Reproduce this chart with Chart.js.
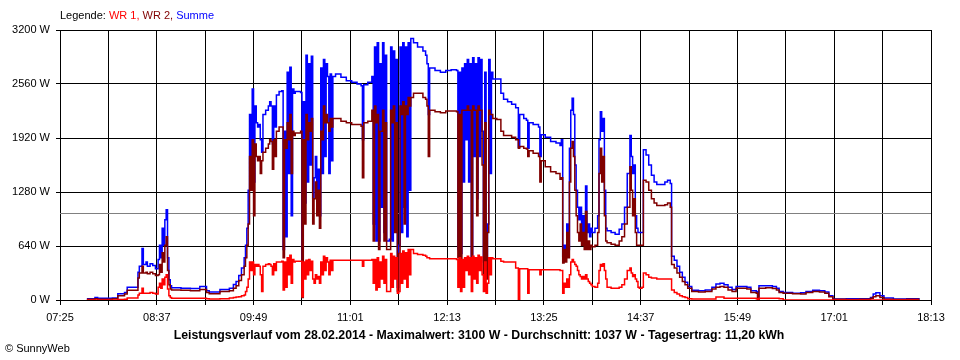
<!DOCTYPE html>
<html>
<head>
<meta charset="utf-8">
<script src="https://cdn.jsdelivr.net/npm/chart.js@4.4.1/dist/chart.umd.min.js"></script>
<style>
  html, body { margin: 0; padding: 0; background: #fff; }
</style>
</head>
<body>
<canvas id="myChart" width="960" height="360"></canvas>
<script>
// Leistungsverlauf 28.02.2014
var times = [
  '07:45','07:51','07:53','08:04','08:08','08:13','08:15','08:23','08:24','08:26',
  '08:27','08:29','08:30','08:32','08:34','08:36','08:38','08:39','08:40','08:41',
  '08:42','08:43','08:44','08:45','08:46','08:47','08:48','08:55','09:02','09:09',
  '09:14','09:16','09:24','09:31','09:34','09:36','09:38','09:40','09:42','09:43',
  '09:44','09:45','09:46','09:47','09:48','09:49','09:50','09:51','09:52','09:53',
  '09:54','09:55','09:56','09:58','10:00','10:01','10:02','10:03','10:04','10:05',
  '10:06','10:08','10:10','10:11','10:12','10:13','10:14','10:15','10:16','10:17',
  '10:18','10:19','10:20','10:24','10:25','10:26','10:27','10:28','10:29','10:30',
  '10:31','10:32','10:33','10:34','10:35','10:36','10:37','10:38','10:39','10:40',
  '10:41','10:42','10:43','10:44','10:45','10:46','10:47','10:48','10:50','10:54',
  '10:58','11:02','11:06','11:09','11:10','11:11','11:14','11:17','11:18','11:19',
  '11:20','11:21','11:22','11:23','11:24','11:25','11:26','11:27','11:28','11:30',
  '11:31','11:32','11:33','11:34','11:35','11:36','11:37','11:38','11:39','11:40',
  '11:41','11:42','11:43','11:44','11:45','11:46','11:48','11:51','11:55','11:57',
  '11:58','11:59','12:00','12:04','12:08','12:12','12:16','12:20','12:21','12:22',
  '12:23','12:24','12:25','12:26','12:27','12:28','12:29','12:30','12:31','12:32',
  '12:33','12:34','12:35','12:36','12:37','12:38','12:39','12:40','12:41','12:42',
  '12:43','12:44','12:45','12:46','12:47','12:50','12:53','12:55','12:58','13:01',
  '13:04','13:06','13:07','13:10','13:12','13:13','13:14','13:17','13:21','13:22',
  '13:23','13:26','13:30','13:34','13:37','13:38','13:39','13:40','13:41','13:42',
  '13:43','13:44','13:45','13:46','13:47','13:48','13:49','13:50','13:51','13:52',
  '13:53','13:54','13:55','13:56','13:57','13:58','13:59','14:00','14:01','14:03',
  '14:05','14:06','14:07','14:08','14:09','14:10','14:11','14:12','14:15','14:18',
  '14:21','14:23','14:25','14:27','14:29','14:30','14:31','14:32','14:33','14:34',
  '14:35','14:36','14:38','14:39','14:41','14:43','14:45','14:47','14:49','14:52',
  '14:55','14:57','14:59','15:00','15:02','15:04','15:06','15:08','15:10','15:12',
  '15:15','15:20','15:25','15:30','15:33','15:36','15:39','15:42','15:45','15:48',
  '15:52','15:56','15:59','16:03','16:04','16:05','16:10','16:15','16:18','16:20',
  '16:23','16:30','16:36','16:40','16:45','16:50','16:54','16:57','17:00','17:10',
  '17:20','17:28','17:30','17:32','17:35','17:38','17:45','17:55','18:04'
];

var wr1 = [
  0, 0, 0, 0, 5, 10, 25, 60, 80, 140,
  80, 80, 80, 90, 80, 70, 150, 200, 140, 250,
  180, 270, 300, 130, 50, 30, 20, 20, 20, 20,
  15, 12, 15, 25, 30, 35, 40, 50, 60, 100,
  150, 250, 450, 350, 450, 300, 420, 400, 420, 400,
  300, 100, 400, 420, 430, 420, 400, 300, 430, 350,
  450, 450, 460, 120, 450, 150, 500, 300, 530, 200,
  480, 450, 460, 460, 40, 450, 250, 470, 300, 480,
  350, 460, 250, 200, 300, 250, 280, 200, 450, 300,
  520, 350, 500, 450, 300, 470, 350, 470, 470, 470,
  470, 470, 470, 470, 400, 470, 470, 480, 200, 480,
  120, 500, 150, 450, 250, 520, 200, 480, 100, 100,
  550, 150, 520, 250, 500, 80, 100, 550, 200, 580,
  250, 560, 150, 600, 300, 600, 550, 540, 530, 520,
  500, 500, 490, 490, 490, 490, 490, 480, 150, 500,
  100, 480, 150, 500, 350, 520, 300, 500, 100, 520,
  250, 500, 200, 530, 350, 510, 300, 100, 450, 80,
  200, 500, 300, 500, 490, 490, 460, 450, 450, 450,
  380, 0, 370, 370, 370, 80, 360, 360, 360, 300,
  360, 360, 360, 360, 350, 350, 80, 200, 150, 250,
  150, 300, 450, 480, 450, 420, 400, 350, 300, 280,
  250, 280, 250, 300, 250, 220, 200, 180, 160, 150,
  200, 350, 420, 400, 430, 350, 250, 150, 140, 140,
  150, 180, 250, 350, 380, 320, 280, 300, 250, 220,
  150, 140, 150, 320, 300, 270, 260, 260, 250, 250,
  250, 250, 250, 120, 90, 70, 50, 40, 30, 15,
  12, 12, 12, 12, 35, 35, 20, 20, 20, 20,
  20, 20, 20, 15, 0, 20, 20, 20, 20, 15,
  0, 0, 0, 0, 0, 0, 0, 0, 0, 0,
  0, 0, 0, 0, 0, 0, 0, 0, 0
];

var wr2 = [
  10, 15, 10, 15, 50, 70, 115, 260, 320, 400,
  320, 330, 310, 330, 310, 290, 300, 420, 330, 560,
  450, 650, 750, 350, 180, 130, 120, 115, 110, 125,
  90, 75, 100, 110, 140, 170, 230, 300, 400, 500,
  650, 900, 1700, 1300, 1900, 1000, 1850, 1700, 1650, 1700,
  1500, 1650, 1750, 1800, 1850, 1900, 1880, 1550, 1900, 1700,
  2000, 2050, 2050, 500, 1900, 1800, 2100, 1900, 2200, 1500,
  2000, 1950, 1980, 2000, 30, 1900, 900, 2200, 1900, 2100,
  2000, 2150, 900, 1200, 1400, 1000, 1300, 850, 2000, 1900,
  2300, 2100, 2200, 2100, 2000, 2150, 2050, 2150, 2150, 2120,
  2100, 2080, 2080, 2060, 1450, 2100, 2120, 2250, 700, 2300,
  2100, 2200, 600, 2000, 2000, 2250, 700, 2100, 600, 600,
  2250, 2100, 2300, 800, 2100, 100, 550, 2300, 2200, 2350,
  900, 2300, 2200, 2400, 2300, 2400, 2450, 2450, 2400, 2380,
  2300, 1700, 2250, 2230, 2220, 2240, 2240, 2230, 500, 2200,
  400, 2250, 2250, 2250, 2250, 2300, 2250, 2250, 350, 2300,
  2250, 2250, 1000, 2300, 2250, 2250, 1600, 300, 2100, 250,
  800, 2250, 2200, 2200, 2150, 2140, 2000, 1950, 1950, 1930,
  1900, 1800, 1820, 1800, 1790, 1700, 1770, 1740, 1700, 1400,
  1650, 1580, 1520, 1500, 1430, 1450, 440, 600, 450, 800,
  500, 1400, 1800, 1880, 1700, 1300, 1000, 800, 700, 900,
  650, 800, 600, 1050, 600, 700, 600, 650, 630, 650,
  800, 1500, 1800, 1400, 1700, 1000, 700, 680, 660, 650,
  700, 750, 900, 1100, 1580, 1300, 1000, 1200, 800, 650,
  650, 650, 650, 1420, 1400, 1300, 1200, 1150, 1120, 1120,
  1130, 1150, 1100, 420, 380, 320, 270, 220, 180, 140,
  100, 95, 100, 130, 150, 160, 150, 120, 100, 140,
  140, 130, 90, 80, 0, 140, 145, 135, 120, 90,
  80, 75, 70, 90, 100, 95, 80, 40, 10, 5,
  10, 20, 40, 50, 30, 10, 5, 10, 0
];

var summe = [
  15, 30, 20, 25, 75, 90, 150, 330, 400, 610,
  420, 450, 400, 430, 410, 370, 480, 650, 500, 850,
  650, 950, 1070, 500, 240, 170, 145, 140, 135, 160,
  110, 95, 125, 140, 185, 220, 290, 380, 500, 650,
  850, 1300, 2200, 1700, 2500, 1400, 2300, 2100, 2050, 2080,
  1900, 1750, 2200, 2250, 2300, 2350, 2300, 1850, 2300, 2050,
  2430, 2470, 2480, 600, 2000, 750, 2700, 1500, 2760, 1000,
  2500, 2450, 2470, 2460, 80, 2350, 1150, 2900, 1400, 2800,
  1600, 2890, 1200, 1450, 1700, 1150, 1550, 1000, 2750, 1500,
  2850, 1700, 2800, 2650, 1500, 2680, 1650, 2650, 2680, 2640,
  2600, 2580, 2560, 2540, 1900, 2550, 2580, 2650, 900, 3000,
  700, 3050, 700, 2800, 1100, 3050, 800, 2900, 700, 720,
  3000, 700, 2950, 900, 2850, 150, 650, 3000, 800, 3050,
  1100, 3000, 750, 3050, 1300, 3100, 3050, 3000, 2950, 2900,
  2800, 2200, 2750, 2720, 2700, 2720, 2730, 2720, 600, 2700,
  550, 2750, 1400, 2800, 1900, 2850, 1400, 2800, 500, 2870,
  1700, 2800, 1200, 2870, 1700, 2850, 2000, 450, 2700, 400,
  900, 2850, 1500, 2700, 2620, 2620, 2450, 2380, 2350, 2320,
  2280, 1810, 2200, 2150, 2130, 1800, 2100, 2080, 2050, 1700,
  1960, 1930, 1880, 1860, 1830, 1900, 520, 650, 560, 900,
  600, 1800, 2250, 2390, 2200, 1600, 1300, 1100, 950, 1100,
  750, 1000, 700, 1350, 800, 900, 750, 850, 800, 850,
  1000, 1900, 2230, 2000, 2150, 1300, 850, 820, 800, 780,
  840, 900, 1100, 1500, 1950, 1700, 1500, 1600, 1000, 850,
  800, 800, 800, 1780, 1720, 1600, 1480, 1400, 1370, 1370,
  1400, 1420, 1380, 520, 470, 400, 330, 270, 210, 160,
  115, 110, 120, 150, 190, 200, 180, 150, 125, 160,
  160, 150, 110, 100, 0, 170, 170, 160, 140, 100,
  90, 80, 85, 100, 115, 110, 95, 50, 12, 15,
  15, 30, 70, 85, 50, 25, 12, 15, 5
];

var seriesLabels = ['WR 1', 'WR 2', 'Summe'];
var seriesColors = ['#ff0000', '#800000', '#0000ff'];

var xStart = '07:25';
var xEnd = '18:13';
var xTickLabels = ['07:25', '08:37', '09:49', '11:01', '12:13', '13:25', '14:37', '15:49', '17:01', '18:13'];
var yTicks = [0, 640, 1280, 1920, 2560, 3200];
var average = 1037;

var titleText = 'Leistungsverlauf vom 28.02.2014 - Maximalwert: 3100 W - Durchschnitt: 1037 W - Tagesertrag: 11,20 kWh';
var footerText = '\u00a9 SunnyWeb';

var FONT = '"Liberation Sans", Arial, sans-serif';

function toMin(t) {
    var p = t.split(':');
    return parseInt(p[0], 10) * 60 + parseInt(p[1], 10);
}

function toTime(m) {
    var h = Math.floor(m / 60);
    var mm = Math.round(m - h * 60);
    return (h < 10 ? '0' : '') + h + ':' + (mm < 10 ? '0' : '') + mm;
}

function points(values) {
    return values.map(function (v, i) {
        return { x: toMin(times[i]), y: v };
    });
}

// grey line for the daily average
var averageLine = {
    id: 'averageLine',
    beforeDatasetsDraw: function (chart) {
        var ctx = chart.ctx;
        var area = chart.chartArea;
        var y = Math.round(chart.scales.y.getPixelForValue(average)) + 0.5;
        ctx.save();
        ctx.strokeStyle = '#808080';
        ctx.lineWidth = 1;
        ctx.beginPath();
        ctx.moveTo(area.left, y);
        ctx.lineTo(area.right, y);
        ctx.stroke();
        ctx.restore();
    }
};

// "Legende:" line on top, title and copyright at the bottom
var texts = {
    id: 'texts',
    afterDraw: function (chart) {
        var ctx = chart.ctx;
        ctx.save();
        ctx.textBaseline = 'middle';
        ctx.font = '11px ' + FONT;
        var x = 60;
        ctx.fillStyle = '#000';
        ctx.fillText('Legende: ', x, 16);
        x += ctx.measureText('Legende: ').width;
        chart.data.datasets.forEach(function (ds, i) {
            var s = ds.label + (i < chart.data.datasets.length - 1 ? ', ' : '');
            ctx.fillStyle = ds.borderColor;
            ctx.fillText(s, x, 16);
            x += ctx.measureText(s).width;
        });

        ctx.fillStyle = '#000';
        ctx.textAlign = 'center';
        ctx.font = 'bold 12.3px ' + FONT;
        ctx.fillText(titleText, 479, 336);

        ctx.textAlign = 'left';
        ctx.font = '11px ' + FONT;
        ctx.fillText(footerText, 5, 349);
        ctx.restore();
    }
};

var ctx = document.getElementById('myChart').getContext('2d');
var myChart = new Chart(ctx, {
    type: 'line',
    data: {
        datasets: [0, 1, 2].map(function (i) {
            return {
                label: seriesLabels[i],
                data: points([wr1, wr2, summe][i]),
                borderColor: seriesColors[i],
                backgroundColor: seriesColors[i],
                borderWidth: 1.5,
                pointRadius: 0,
                stepped: true,
                fill: false
            };
        })
    },
    options: {
        responsive: false,
        animation: false,
        layout: {
            padding: { top: 30, right: 29, bottom: 38, left: 0 }
        },
        plugins: {
            legend: { display: false },
            title: { display: false },
            tooltip: { enabled: false }
        },
        scales: {
            x: {
                type: 'linear',
                min: toMin(xStart),
                max: toMin(xEnd),
                afterFit: function (scale) { scale.height = 22; },
                border: { color: '#000', width: 1 },
                grid: { color: '#000', lineWidth: 1, tickLength: 5, tickColor: '#000' },
                ticks: {
                    stepSize: 36,
                    autoSkip: false,
                    maxRotation: 0,
                    padding: 6,
                    color: '#000',
                    font: { family: FONT, size: 11 },
                    callback: function (value) {
                        var t = toTime(value);
                        return xTickLabels.indexOf(t) >= 0 ? t : '';
                    }
                }
            },
            y: {
                min: yTicks[0],
                max: yTicks[yTicks.length - 1],
                afterFit: function (scale) { scale.width = 60; },
                afterBuildTicks: function (scale) {
                    scale.ticks = yTicks.map(function (v) { return { value: v }; });
                },
                border: { color: '#000', width: 1 },
                grid: { color: '#000', lineWidth: 1, tickLength: 4, tickColor: '#000' },
                ticks: {
                    padding: 6,
                    color: '#000',
                    font: { family: FONT, size: 11 },
                    callback: function (value) { return value + ' W'; }
                }
            }
        }
    },
    plugins: [averageLine, texts]
});
</script>
</body>
</html>
